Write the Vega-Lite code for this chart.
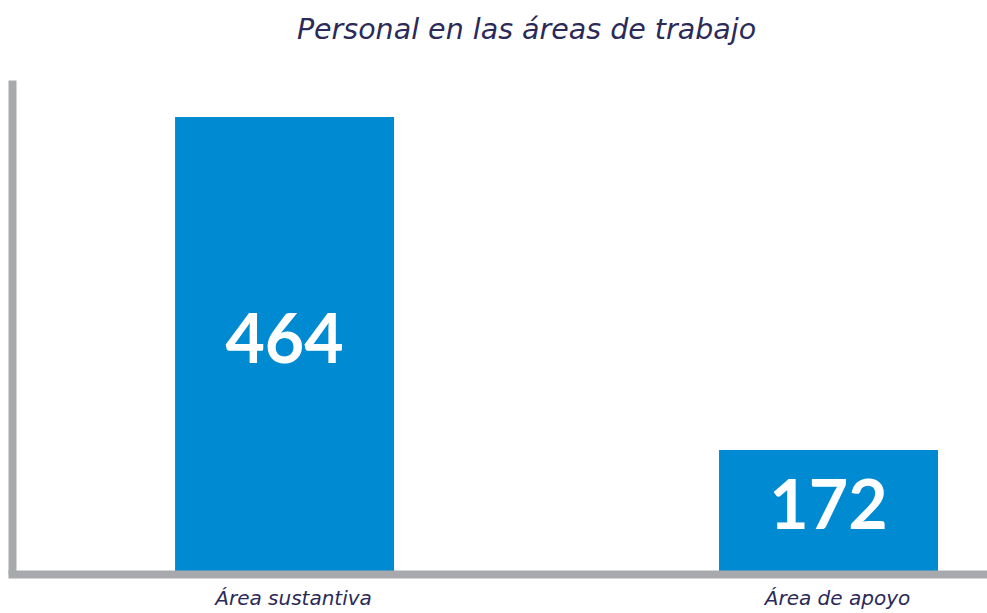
{
  "$schema": "https://vega.github.io/schema/vega-lite/v6.json",
  "autosize": "none",
  "width": 975,
  "height": 494,
  "padding": {"left": 12, "top": 80, "right": 0, "bottom": 39},
  "background": "#ffffff",
  "title": {
    "text": "Personal en las áreas de trabajo",
    "font": "DejaVu Sans",
    "fontStyle": "italic",
    "fontWeight": "normal",
    "fontSize": 28.5,
    "color": "#2B2A58",
    "anchor": "middle",
    "dx": 27,
    "offset": 36
  },
  "data": {
    "values": [
      {"area": "Área sustantiva", "personal": 464},
      {"area": "Área de apoyo", "personal": 172}
    ]
  },
  "transform": [{"calculate": "(datum.personal + 63.3) / 2", "as": "mid"}],
  "encoding": {
    "x": {
      "field": "area",
      "type": "nominal",
      "sort": null,
      "scale": {"paddingInner": 0.5974, "paddingOuter": 0.1949, "align": 0.769},
      "axis": {
        "title": null,
        "ticks": false,
        "labelAngle": 0,
        "labelFont": "DejaVu Sans",
        "labelFontStyle": "italic",
        "labelFontSize": 20,
        "labelColor": "#2B2A58",
        "labelPadding": 14,
        "labelOffset": 9,
        "domainColor": "#A8A9AD",
        "domainWidth": 8,
        "domainCap": "square",
        "zindex": 1,
        "grid": false
      }
    }
  },
  "layer": [
    {
      "mark": {"type": "bar", "color": "#008AD1", "clip": true},
      "encoding": {
        "y": {
          "field": "personal",
          "type": "quantitative",
          "scale": {"domain": [63.3, 496.5], "zero": false, "nice": false},
          "axis": {
            "title": null,
            "labels": false,
            "ticks": false,
            "grid": false,
            "domainColor": "#A8A9AD",
            "domainWidth": 8,
            "zindex": 1
          }
        }
      }
    },
    {
      "mark": {"type": "text", "color": "#ffffff", "font": "Lato", "fontWeight": "bold", "fontSize": 68, "baseline": "middle", "align": "center", "dy": -3},
      "encoding": {
        "y": {"field": "mid", "type": "quantitative"},
        "text": {"field": "personal", "type": "quantitative"}
      }
    }
  ],
  "config": {"view": {"stroke": null}}
}
